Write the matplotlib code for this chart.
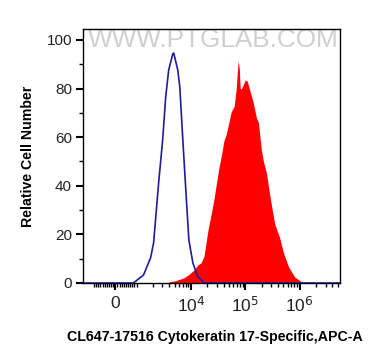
import numpy as np
import matplotlib
matplotlib.use("Agg")
import matplotlib.pyplot as plt

plt.rcParams['font.family'] = ['Liberation Sans', 'DejaVu Sans']
plt.rcParams['mathtext.fontset'] = 'custom'
plt.rcParams['mathtext.rm'] = 'Liberation Sans'
plt.rcParams['mathtext.it'] = 'Liberation Sans'

# ---- data (APC-A intensity, % of max) ----
isotype_x = [-1600, 380, 855, 1345, 1811, 2060, 2548, 3020, 3435, 3900, 4630,
             4830, 5730, 6240, 7100, 8050, 9160, 10870, 13450, 17380, 5.5e6]
isotype_y = [0, 0, 0, 3.3, 10.3, 16.5, 41.2, 58.8, 76.5, 87.6, 94.2,
             94.6, 87.6, 80.7, 58.8, 38.3, 17.7, 8.2, 2.5, 0, 0]

ck17_x = [3900, 5260, 7400, 9160, 11330, 13450, 15280, 17380, 20600, 23400,
          26600, 28970, 32900, 35800, 40700, 44360, 48300, 54950, 62370, 67920,
          70960, 73960, 77270, 80540, 84140, 91620, 99770, 108600, 118300,
          128800, 140300, 159600, 173800, 197200, 214800, 244300, 277300,
          302000, 343600, 389900, 424600, 503500, 623700, 805400, 1087000,
          1892000]
ck17_y = [0.4, 1.0, 2.1, 3.5, 5.3, 7.5, 8.2, 11.0, 21.8, 28.0,
          34.6, 40.0, 47.7, 51.8, 58.8, 61.0, 64.6, 70.4, 72.8, 79.8,
          86.0, 91.4, 88.5, 80.0, 79.8, 81.5, 83.5, 83.0, 80.0,
          77.0, 74.0, 68.0, 66.0, 54.7, 50.0, 45.3, 37.0,
          32.0, 24.7, 21.0, 18.9, 12.3, 6.6, 2.5, 0.4,
          0]

xtick_vals = [0, 1e4, 1e5, 1e6]
xtick_labels = ['0', r'$10^{\mathsf{4}}$', r'$10^{\mathsf{5}}$', r'$10^{\mathsf{6}}$']
ytick_vals = [0, 20, 40, 60, 80, 100]

fig = plt.figure(figsize=(3.8, 3.64), dpi=100)
ax = fig.add_axes([83 / 380, 1 - 283 / 364, (340 - 83) / 380, (283 - 28.5) / 364])

ax.set_xscale('symlog', linthresh=1000, linscale=0.351)

ax.fill_between(ck17_x, ck17_y, 0, color='#ff0000', lw=0, zorder=2)
ax.plot(isotype_x, isotype_y, color='#1c1c9c', lw=1.2, zorder=3)

ax.set_xlim(-1600, 5.5e6)
ax.set_ylim(0, 104.7)

# ticks
ax.set_xticks(xtick_vals)
ax.set_xticklabels(xtick_labels)
minor = [-k * 100 for k in range(1, 11)] + [k * 100 for k in range(1, 10)]
for d in range(3, 7):
    for k in range(1, 10):
        v = k * 10 ** d
        if v not in xtick_vals and v < 5.5e6:
            minor.append(v)
ax.set_xticks(minor, minor=True)
ax.set_yticks(ytick_vals)
ax.set_yticks(range(10, 101, 20), minor=True)

ax.tick_params(which='major', length=5, width=1.5, labelsize=11, pad=2,
               colors='black', labelcolor='#222222')
ax.tick_params(which='minor', length=3, width=1.0)
ax.tick_params(axis='y', pad=3)
ax.tick_params(axis='x', which='major', labelsize=12.5, pad=4)
for s in ax.spines.values():
    s.set_linewidth(1.0)

# watermark
ax.text(0.505, 0.955, 'WWW.PTGLAB.COM', transform=ax.transAxes, ha='center',
        va='center', fontsize=18.8, color='#cfcfcf', zorder=1)

fig.text(215 / 380, 1 - 337 / 364, 'CL647-17516 Cytokeratin 17-Specific,APC-A',
         ha='center', va='center', fontsize=10.2, fontweight='bold')
fig.text(28 / 380, 1 - 156 / 364, 'Relative Cell Number', ha='center',
         va='center', rotation=90, fontsize=10.2, fontweight='bold')

fig.savefig('out.png', dpi=100)
